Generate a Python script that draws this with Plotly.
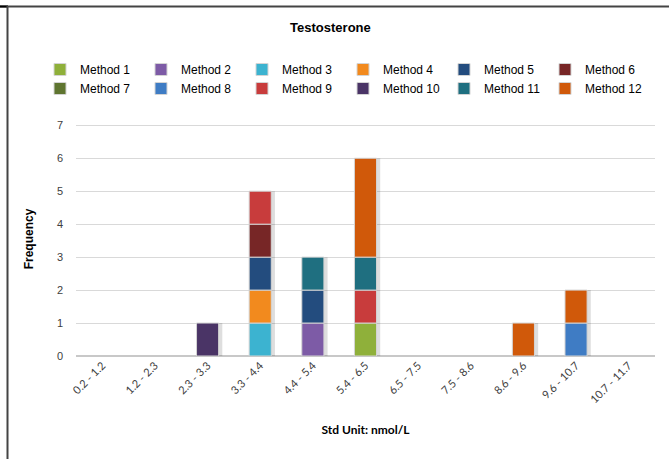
import numpy as np
import plotly.graph_objects as go

# Concentration bins (nmol/L)
categories = ["0.2 - 1.2", "1.2 - 2.3", "2.3 - 3.3", "3.3 - 4.4", "4.4 - 5.4",
              "5.4 - 6.5", "6.5 - 7.5", "7.5 - 8.6", "8.6 - 9.6", "9.6 - 10.7",
              "10.7 - 11.7"]

# Frequency of results per method in each bin
method_1 = [0, 0, 0, 0, 0, 1, 0, 0, 0, 0, 0]
method_2 = [0, 0, 0, 0, 1, 0, 0, 0, 0, 0, 0]
method_3 = [0, 0, 0, 1, 0, 0, 0, 0, 0, 0, 0]
method_4 = [0, 0, 0, 1, 0, 0, 0, 0, 0, 0, 0]
method_5 = [0, 0, 0, 1, 1, 0, 0, 0, 0, 0, 0]
method_6 = [0, 0, 0, 1, 0, 0, 0, 0, 0, 0, 0]
method_7 = [0, 0, 0, 0, 0, 0, 0, 0, 0, 0, 0]
method_8 = [0, 0, 0, 0, 0, 0, 0, 0, 0, 1, 0]
method_9 = [0, 0, 0, 1, 0, 1, 0, 0, 0, 0, 0]
method_10 = [0, 0, 1, 0, 0, 0, 0, 0, 0, 0, 0]
method_11 = [0, 0, 0, 0, 1, 1, 0, 0, 0, 0, 0]
method_12 = [0, 0, 0, 0, 0, 3, 0, 0, 1, 1, 0]

series_names = ["Method 1", "Method 2", "Method 3", "Method 4", "Method 5", "Method 6",
                "Method 7", "Method 8", "Method 9", "Method 10", "Method 11", "Method 12"]
series_values = [method_1, method_2, method_3, method_4, method_5, method_6,
                 method_7, method_8, method_9, method_10, method_11, method_12]
series_colors = ["#8fb03a", "#7d5ba6", "#3cb3d0", "#f28a1e", "#234c7e", "#772626",
                 "#5f7530", "#3f7cc4", "#c83c3c", "#4a3466", "#1f6f80", "#d0590a"]

W, H = 669, 459
L, R, T, B = 76, 14, 122, 103
PW, PH = W - L - R, H - T - B

def px(x):
    return (x - L) / PW

def py(y):
    return (H - B - y) / PH

bar_w = 0.42
fig = go.Figure()

# soft drop shadow behind each stack
totals = np.sum(np.array(series_values), axis=0)
fig.add_trace(go.Bar(
    x=categories, y=[t if t > 0 else None for t in totals], base=0,
    width=bar_w, offset=-bar_w / 2 + 0.07,
    marker=dict(color="rgba(0,0,0,0.13)", line=dict(width=0)),
    showlegend=False, hoverinfo="skip"))

base = np.zeros(len(categories))
for name, vals, col in zip(series_names, series_values, series_colors):
    v = np.array(vals, dtype=float)
    fig.add_trace(go.Bar(
        name=name, x=categories,
        y=[val if val > 0 else None for val in v],
        base=base.copy(), width=bar_w, offset=-bar_w / 2,
        marker=dict(color=col, line=dict(color="#d4d4d4", width=1)),
    ))
    base = base + v

shapes = [
    dict(type="line", xref="paper", yref="paper", x0=px(0), x1=px(W), y0=py(6.5), y1=py(6.5),
         line=dict(color="#444444", width=2)),
    dict(type="line", xref="paper", yref="paper", x0=px(0), x1=px(8), y0=py(6.5), y1=py(6.5),
         line=dict(color="#000000", width=2)),
    dict(type="line", xref="paper", yref="paper", x0=px(7.5), x1=px(7.5), y0=py(6), y1=py(H),
         line=dict(color="#444444", width=2)),
]

fig.update_layout(
    width=W, height=H,
    margin=dict(l=L, r=R, t=T, b=B),
    paper_bgcolor="white", plot_bgcolor="white",
    barmode="overlay",
    title=dict(text="<b>Testosterone</b>", x=px(362), xanchor="center",
               y=1 - 27 / H, yanchor="middle",
               font=dict(family="Liberation Sans, Arial", size=13, color="#000000")),
    legend=dict(orientation="h", x=px(40), xanchor="left", y=py(55), yanchor="top",
                entrywidth=56, entrywidthmode="pixels", itemwidth=30,
                font=dict(family="Liberation Sans, Arial", size=12, color="#000000"),
                traceorder="normal", bgcolor="rgba(0,0,0,0)"),
    shapes=shapes,
    xaxis=dict(type="category", categoryorder="array", categoryarray=categories,
               range=[-0.5, len(categories) - 0.5],
               tickangle=-45, tickfont=dict(family="Lato, Open Sans", size=11, color="#404040"),
               showline=False, showgrid=False, ticks="",
               title=dict(text="<b>Std Unit: nmol/L</b>", standoff=21,
                          font=dict(family="Lato, Open Sans", size=12, color="#000000"))),
    yaxis=dict(range=[0, 7.1], dtick=1, tick0=0,
               showgrid=True, gridcolor="#d9d9d9", gridwidth=1,
               zeroline=True, zerolinecolor="#c8c8c8", zerolinewidth=2,
               showline=False, ticks="", ticklabelstandoff=12,
               tickfont=dict(family="Liberation Sans, Arial", size=11, color="#404040"),
               title=dict(text="<b>Frequency</b>", standoff=20,
                          font=dict(family="Liberation Sans, Arial", size=12, color="#000000"))),
)

fig.write_html("out.html")
